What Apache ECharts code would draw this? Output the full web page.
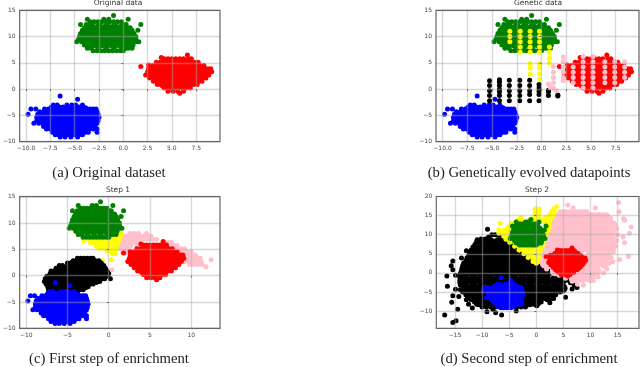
<!DOCTYPE html>
<html><head><meta charset="utf-8">
<style>html,body{margin:0;padding:0;background:#fff}#c{width:640px;height:367px;filter:blur(0.45px)}</style>
<script src="https://cdn.jsdelivr.net/npm/echarts@6/dist/echarts.min.js"></script>
</head><body><div id="c"></div>
<script>
// Point clouds. Each row is [y, x, x, x...]; "Col" lists are [x, y, y, y...].
// *Edge: outline and stray points. *Core: dense interior, drawn with a wider dot.
const blueEdge=[[-1.3,-6.5],[-1.9,-4.7],[-3,-7.2,-6.8,-5.8,-5.3,-4.9,-4.2],[-3.4,-7.4,-7,-6.6,-6.2,-5.8,-5.4,-5,-4.6,-4.3],
[-3.8,-9.5,-9,-8.1,-7.7,-3.8,-3.4,-3.1,-2.8],[-4.3,-8.6,-8.2,-3.4,-3,-2.7],[-4.8,-9.8,-8.8,-8.4,-3,-2.6],[-5.4,-8.9,-8.5,-2.9,-2.5],
[-6,-8.9,-8.5,-3,-2.6],[-6.5,-9.2,-8.7,-8.3,-3.1,-2.7],[-7.1,-8.2,-7.8,-3.3,-2.9],[-7.6,-7.9,-7.5,-3.5,-3.1,-2.7],
[-8.2,-7.3,-6.9,-3.9,-3.6,-2.7],[-8.7,-7,-6.6,-6.2,-5.8,-5.4,-5,-4.6,-4.2],[-9.1,-6.5,-6,-5.4,-4.7]];
const blueCore=[[-4,-7.2,-6.4,-5.6,-4.8,-4],[-5,-7.9,-7.1,-6.3,-5.5,-4.7,-3.9,-3.3],[-6,-8,-7.2,-6.4,-5.6,-4.8,-4,-3.4],
[-7,-7.5,-6.7,-5.9,-5.1,-4.3,-3.6],[-8,-6.7,-5.9,-5.1,-4.4]];
const greenEdge=[[14,-1],[13.3,-3.7,-2,-1.5,0.5],[12.8,-3.4,-3,-2.6,-2.2,-1.8,-1.4,-1,-0.6,-0.2],[12.3,-4.4,-3.8,-3.4,0,0.3,1.8],
[11.7,-4,-3.7,0.4,0.7],[11.2,-4.2,-3.8,0.6,0.9,1.5],[10.6,-4.4,-4,0.8,1.1],[10,-4.5,-4.1,0.9,1.3],[9.5,-4.6,-4.2,1,1.3],
[9,-4.8,-4.3,-3.9,1,1.3,1.6],[8.4,-4,-3.6,0.6,1],[7.8,-3.7,-3.3,0.2,0.5,0.9],[7.3,-3.1,-2.7,-2.3,-1.9,-1.5,-1.1,-0.7,-0.3,0]];
const greenCore=[[11.6,-3.3,-2.5,-1.7,-0.9,-0.1],[10.6,-3.7,-2.9,-2.1,-1.3,-0.5,0.3],[9.6,-3.9,-3.1,-2.3,-1.5,-0.7,0.1,0.6],[8.6,-3.4,-2.6,-1.8,-1,-0.2,0.4]];
const redEdge=[[6.5,6.6],[6,3.9],[5.8,4.2,4.6,5,5.4,5.8,6.2,6.7,7],[5.1,3.4,3.8,7.3,7.7],[4.6,2.6],[4.5,3,3.4,7.9,8.3],[4.3,1.8],
[3.9,2.6,3,8.3,8.7,9],[3.3,2.5,2.9,8.6,9,9.1],[2.7,2.3,2.7,8.5,8.8],[2.1,2.7,3.1,8.1,8.5],[1.5,3.1,3.5,7.8,8.1],[0.9,3.5,3.9,7.2,7.6],
[0.2,4.2,4.6,4.9,5.3,5.7,6.1,6.5,6.9],[-0.4,4.6,5.1,5.6,6.2],[-0.8,5.8]];
const redCore=[[5,4.4,5.2,6,6.8],[4,3.6,4.4,5.2,6,6.8,7.6],[3,3.2,4,4.8,5.6,6.4,7.2,8],[2,3.6,4.4,5.2,6,6.8,7.6],[1,4.2,5,5.8,6.6]];
// Panel (b): evolved datapoints in columns
const yellowColB=[[-3.2,11,10,9],[-2.15,11,10,9,8,7],[-1.15,11,10,9,8,7,4.9,4,2.9],
[-0.2,11,10,9,8,7,4.9,4,2.9,1.9],[0.8,8,7,5.9,5]];
const blackColB=[[-5.25,1.6,0.7,-0.3,-1.2,-2.2],[-4.25,1.8,1.3,0.7,0,-0.5,-1.2,-2.2],
[-3.25,1.7,0.7,-0.3,-1.2,-2.2],[-2.2,1.7,0.7,-0.3,-1.2,-2.2],[-1.2,1.7,0.7,-0.3,-1,-2.2],
[-0.25,0.9,0.2,-0.4,-1,-2.2],[0.7,-0.2,-0.5,-1.2],[1.65,-1.1,-1.3]];
const pinkColB=[[0.7,1],[0.9,0.3],[1.5,-0.3],[1.2,4.3,3.2,2.2,1.2,0.2],[2.2,6.1,5.2,4.2,3.2,2.2,1.6],
[3.2,4.2,3.2,2.2,1.2],[4.2,6.2,5.2,4.2,3.2,2.2,1.2,0.2],[5.2,6.2,5.2,4.2,3.2,2.2,1.2,0.2],
[6.4,5.2,4.2,3.2,2.2,1.2],[7.4,5.2,4.2,3.2,2.2,1.2],[8.4,5.2,4.2,3.2,2.2]];
// Panel (c)
const blackEdgeC=[[3.3,-3.8,-3.4,-3,-2.6,-2.2,-1.9],[2.8,-4.3,-3.9,-1.6,-1.2],[2.4,-5,-4.6,-1.2,-0.9],[1.9,-6,-5.6,-1,-0.6],[1.4,-6.4,-6,-0.7,-0.4],
[0.9,-7,-6.6,-0.5,-0.2],[0.4,-7.1,-6.7,-0.3,0],[-0.1,-7.5,-7.1,-0.4,-0.1],[-0.6,-7.7,-7.3,-0.8,-0.5,0.2],[-1.1,-7.8,-7.4,-1.5,-1.1],
[-1.6,-7.6,-7.2,-2.2,-1.9],[-2.1,-7.4,-7,-2.9,-2.5],[-2.7,-7.3,-6.9,-3.5,-3.1],[-3.2,-7.1,-6.7,-4.2,-3.8]];
const blackCoreC=[[2.2,-4.2,-3.4,-2.6,-1.8],[1.2,-5.8,-5,-4.2,-3.4,-2.6,-1.8,-1],[0.2,-6.6,-5.8,-5,-4.2,-3.4,-2.6,-1.8,-1,-0.6],
[-0.8,-7.1,-6.3,-5.5,-4.7,-3.9,-3.1,-2.3,-1.6],[-1.8,-6.8,-6,-5.2,-4.4,-3.6,-2.9],[-2.8,-6.5,-5.7,-4.9,-4.2]];
const yellowC=[[8,0.4,0.9,1.3,1.5],[7.4,-0.2,0.3,0.8,1.4],[6.8,-2.4,-1.9,-1.4,-0.9,-0.4,0.1,0.6,1.1,1.3],[6.6,-3],[6.2,-2.2,-1.7,-1.2,-0.7,-0.2,0.3,0.8,1.1],
[5.6,-1.5,-1,-0.5,0,0.5,1],[5.2,-1.2,-0.8,-0.3,0.2,0.7,0.9],[4.7,-0.2,0.3,0.8],[4.2,0.4,0.8],[3,0.3],[2.8,-0.8]];
const pinkC=[[8,2.6,3.1,3.6,4.6],[7.5,1.8,2.2,2.7,3.2,3.7,4.2,4.7,5.1],[6.9,1.3,1.8,2.3,2.8,3.3,3.8,4.3,4.8,5.3,5.8],
[6.3,1.3,1.8,2.3,2.8,3.3,3.8,6.7,7.2,7.6],[5.7,1.2,1.7,2.2,2.7,3.4,7.4,7.9,8.3],[5.1,1.4,1.9,2.4,8,8.4,8.8,9.2],[4.5,1.7,2.2,8.5,9,9.5,10],
[3.9,9,9.5,10,10.5],[3.3,9.2,9.7,10.2,10.7,11.1],[3,12.4],[2.7,9.2,9.7,10.2,10.7,11.2],[2.1,9.8,10.3,10.8,11.3],[1.7,11.8],[1.1,0.4]];
// Panel (d)
const blackEdgeD=[[11.4,-9],[10,-8.2,-7.6,-7,-6.5],[9.4,-8.8,-6.2],[8.9,-10.2,-9.4,-5.7],[8.7,-10.9],[8.2,-11,-5.1],[7.5,-11.3,-4.6],[6.8,-11.7,-4],[6,-12,-3.4],
[5.8,-12.9,-12.1,-11.5],[5.2,-12.3,-2.6],[4.5,-12.5,-2],[3.9,-13.8,-12.8,-1.5],[3.2,-13,-1],[3.1,-15.4],[2.5,-13.4,-0.4],[1.9,-15.7],[1.8,-13.6,0.4],[1.2,-13.7,1],
[0.8,-15.4],[0.6,-13.8,2],[0,-14,2.9],[-0.6,-14.9,-14,3.6],[-0.8,-16.5],[-1.2,-14.1,4.6],[-1.9,-14.1,5.6],[-2.6,-14.1,6.3],[-3.2,-14,7],[-3.5,-16.4],
[-3.8,7.5],[-4.2,6.6],[-4.3,-14.9],[-4.4,-14,5],[-5,-13.6,4.4],[-5.7,-13,3.6],[-6,-15.4],[-6.2,-14.3],[-6.4,5.4],[-6.3,-12.7,3],[-6.7,3.2],[-7,-12.9,-12,2],
[-7.6,-11.4,0.9],[-7.7,-15.6],[-7.8,2.5],[-8.2,-12.5,-11,-0.2],[-8.3,-1],[-8.6,0.1],[-8.9,-10,-9.2,-8.4,-7.6,-6.8,-6,-5.2,-4.4,-3.6,-2.8,-2],
[-9.2,-11.8],[-9.5,-14.5],[-9.6,-8],[-10,-3.7],[-10.2,-9.1],[-10.4,-7.5],[-11,-16.9,-6.4],[-12.5,-14.8],[-13,-15.4]];
const blackCoreD=[[8,-10,-8.5,-7,-5.8],[6,-11,-9.5,-8,-6.5,-5,-4],[4,-11.8,-10.3,-8.8,-7.3,-5.8,-4.3,-2.8,-2.3],[2,-12.5,-11,-9.5,-8,-6.5,-5,-3.5,-2,-0.6],
[0,-13,-11.5,-10,-8.5,-7,-5.5,-4,-2.5,-1,0.5,1.9],[-2,-13.2,-11.7,-10.2,-8.7,-7.2,-5.7,-4.2,-2.7,-1.2,0.3,1.8,3.3,4.6],
[-4,-13,-11.5,-10,-8.5,-7,-5.5,-4,-2.5,-1,0.5,2,3.5,4.8],[-6,-12,-10.5,-9,-7.5,-6,-4.5,-3,-1.5,0,1.5,2.6],[-7.6,-10.5,-9,-7.5,-6,-4.5,-3,-1.5,0]];
const pinkEdgeD=[[18.4,15.2],[17.8,5.8],[17,6.8,10.9],[16,4.4,5,5.6,6.2,7,7.6,8.2,8.8,9.3,15.3],[15.2,3.4,9.8,10.4,11,11.6,12.2],[14.3,13.7],[14.2,16.1],[14,3.1],[13.8,16.3],[13,14.2],
[12,2.6,17.5],[11.5,14.8],[10.4,17.2],[10,2.1,15],[9.4,16],[8.5,14.8],[8,1.6],[7.9,16.3],[7,14.6],[6,1.1],[5.5,14.2],[4.3,17],[4,0.6,13.8],[3.5,15.4],[3,0.3],[2.9,14.1],
[2.5,13.4],[1,1.9,13],[0.2,3],[0,12.4],[-1,11.4],[-0.6,4.2],[-1.4,5.4],[-2,10.5],[-2.2,6.6],[-3,7.6],[-3.2,8.7]];
const pinkCoreD=[[14.5,4,5.5,7,8.5,10,11.5,12.8],[12.5,3.6,5.1,6.6,8.1,9.6,11.1,12.6,14],[10.5,3.2,4.7,6.2,7.7,9.2,10.7,12.2,13.7],
[8.5,2.8,4.3,5.8,7.3,8.8,10.3,11.8,13.3,14],[6.5,2.4,3.9,5.4,6.9,8.4,9.9,11.4,12.9,13.8],[4.5,1.8,3.3,10,11.5,12.9],[2.5,1.6,3.1,9.6,11.1,12.5],
[0.5,3.5,5,6.5,8,9.5,11],[-1.3,7,8.5,10]];
const yellowD=[[17.3,3.7],[16.7,-0.2,0.6,3.2],[16,-0.2,0.5,2.9,3.3],[15.2,-0.3,0.4,2.5,3.1],[14.5,-2.9,-0.3,0.4,1.7,2.5,2.9],[13.8,-3.6,-2.8,-1.4,-0.6,0.3,1,1.7,2.5],
[13,-6.7,-4.6,-3.8,-3,1.7,2.4],[12,-5.2,-4.5,2,2.4],[11.2,-6.9,-5.9,-5.2,1.9,2.2],[10.4,-6.9,-6.3,-5.5,1.9],[9.6,-6,-5.2,-4.5,1.7],[8.8,-5.6,-4.8,-3.9,1.4],
[8,-4.9,-4,-3.2,-2.4,1.2],[7,-4,-3.2,-2.4,-1.6,-0.8,0,0.8,1.1],[6,-3.2,-2.4,-1.6,-0.8,0,0.8],[5,-2.3,-1.5,-0.7,0.1,0.6],[4,-1.5,-0.7,0.1,0.4],[3,-0.6,0.1],[2.5,0]];
// Tick labels per panel
const xTicksAB=[-10,-7.5,-5,-2.5,0,2.5,5,7.5];
const yTicksABC=[-10,-5,0,5,10,15];
const xTicksC=[-10,-5,0,5,10];
const xTicksD=[-15,-10,-5,0,5,10,15];
const yTicksD=[-10,-5,0,5,10,15,20];
const plotTitles=['Original data','Genetic data','Step 1','Step 2'];
const captions=['(a) Original dataset','(b) Genetically evolved datapoints','(c) First step of enrichment','(d) Second step of enrichment'];

const byRow=r=>r.flatMap(([y,...xs])=>xs.map(x=>[x,y]));
const byCol=c=>c.flatMap(([x,...ys])=>ys.map(y=>[x,y]));
const BLUE='#0000ff',GREEN='#008000',RED='#ff0000',YEL='#ffff00',PINK='#ffc0cb',BLK='#000000';
const DOT=5,CORE=10.5;
const blob=(edge,core,c)=>[[byRow(edge),c,DOT],[byRow(core),c,CORE]];
const blue=blob(blueEdge,blueCore,BLUE),green=blob(greenEdge,greenCore,GREEN),red=blob(redEdge,redCore,RED);
const dots=(d,c)=>[[d,c,DOT]];
const panels=[
 {grid:{left:16,top:10.3,width:204,height:131.4},x:[-10.66,9.95],y:[-10,15],xt:xTicksAB,yt:yTicksABC,dec:1,title:[118,3],cap:[109,173],
  s:[...red,...green,...blue]},
 {grid:{left:436,top:10.3,width:203,height:131.4},x:[-10.66,9.85],y:[-10,15],xt:xTicksAB,yt:yTicksABC,dec:1,title:[538,3],cap:[529,173],
  s:[...red,...green,...blue,...dots(byCol(blackColB),BLK),...dots(byCol(yellowColB),YEL),...dots(byCol(pinkColB),PINK)]},
 {grid:{left:16,top:196.6,width:204,height:131.7},x:[-10.8,13.49],y:[-10,15],xt:xTicksC,yt:yTicksABC,dec:0,title:[118,190],cap:[109,359],
  s:[...dots(byRow(pinkC),PINK),...dots(byRow(yellowC),YEL),...blob(blackEdgeC,blackCoreC,BLK),...green,...red,...blue]},
 {grid:{left:436.3,top:196.5,width:202.7,height:131.8},x:[-18.45,18.95],y:[-14.5,20],xt:xTicksD,yt:yTicksD,dec:0,title:[537,190],cap:[529,359],
  s:[...blob(blackEdgeD,blackCoreD,BLK),...blob(pinkEdgeD,pinkCoreD,PINK),...dots(byRow(yellowD),YEL),...green,...red,...blue]}
];
const TXT='#444';
const fmt=d=>v=>Number(v).toFixed(d).replace('-','\u2212');
const axis=(ext,ticks,dec,i)=>({type:'value',gridIndex:i,min:ext[0],max:ext[1],z:5,
  axisLine:{show:false},
  axisTick:{show:true,length:2,customValues:ticks,lineStyle:{color:'#555',width:0.8}},
  axisLabel:{customValues:ticks,formatter:fmt(dec),color:TXT,fontFamily:'DejaVu Sans',fontSize:6,margin:4,hideOverlap:false},
  splitLine:{show:true,lineStyle:{color:'rgba(170,170,170,0.45)',width:1.4}}});
const option={animation:false,backgroundColor:'#fff',
 grid:panels.map(p=>Object.assign({show:true,borderColor:'#666',borderWidth:1.2,backgroundColor:'transparent',z:6},p.grid)),
 xAxis:panels.map((p,i)=>axis(p.x,p.xt,p.dec,i)),
 yAxis:panels.map((p,i)=>axis(p.y,p.yt,0,i)),
 title:panels.map((p,i)=>({text:plotTitles[i],left:p.title[0],top:p.title[1]-4,textAlign:'center',padding:0,
   textStyle:{fontFamily:'DejaVu Sans',fontSize:7.5,fontWeight:'normal',color:'#333'}})),
 graphic:panels.map((p,i)=>({type:'text',x:p.cap[0],y:p.cap[1],style:{text:captions[i],font:'14.7px "Liberation Serif"',fill:'#222',align:'center',verticalAlign:'middle'}})),
 series:panels.flatMap((p,i)=>p.s.map(([d,c,sz])=>({type:'scatter',xAxisIndex:i,yAxisIndex:i,data:d,symbolSize:sz,itemStyle:{color:c,opacity:1},silent:true,clip:false})))
};
echarts.init(document.getElementById('c'),null,{renderer:'canvas'}).setOption(option);
</script></body></html>
